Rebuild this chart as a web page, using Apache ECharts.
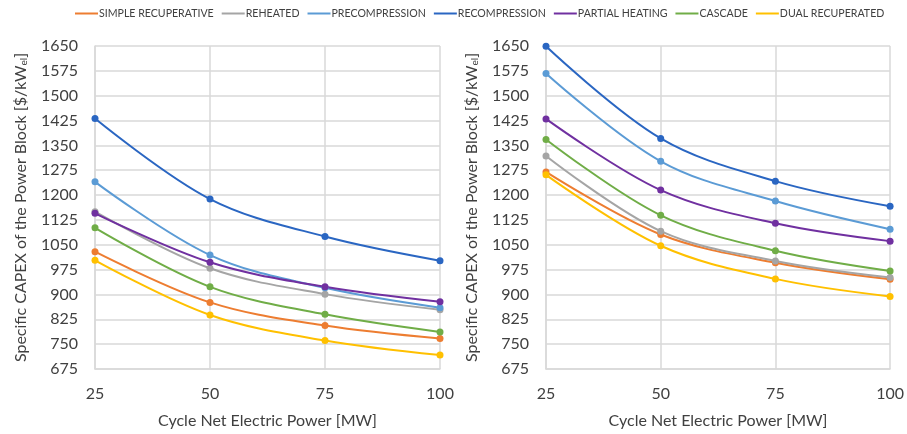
<!DOCTYPE html>
<html>
<head>
<meta charset="utf-8">
<script src="https://cdn.jsdelivr.net/npm/echarts@6/dist/echarts.min.js"></script>
<style>
  html, body { margin: 0; padding: 0; background: #fff; }
  #chart { width: 907px; height: 434px; }
</style>
</head>
<body>
<div id="chart"></div>
<script>
// Net electric power of the cycle [MW]
const power = [25, 50, 75, 100];

// Cycle layouts, in legend order
const cycles = ['SIMPLE RECUPERATIVE', 'REHEATED', 'PRECOMPRESSION', 'RECOMPRESSION',
                'PARTIAL HEATING', 'CASCADE', 'DUAL RECUPERATED'];
const cycleColors = ['#ED7D31', '#A5A5A5', '#5B9BD5', '#2A66C2', '#7030A0', '#70AD47', '#FFC000'];

// Specific CAPEX of the power block [$/kWel] — left panel
const leftSimple   = [1029, 876, 806, 767];
const leftReheated = [1150, 979, 901, 854];
const leftPrecomp  = [1240, 1019, 920, 860];
const leftRecomp   = [1431, 1188, 1075, 1002];
const leftPartial  = [1145, 997, 923, 878];
const leftCascade  = [1101, 923, 840, 787];
const leftDual     = [1003, 838, 761, 717];

// Specific CAPEX of the power block [$/kWel] — right panel
const rightSimple   = [1270, 1081, 996, 946];
const rightReheated = [1318, 1091, 1001, 951];
const rightPrecomp  = [1567, 1302, 1182, 1097];
const rightRecomp   = [1649, 1371, 1242, 1166];
const rightPartial  = [1430, 1215, 1115, 1061];
const rightCascade  = [1368, 1139, 1032, 971];
const rightDual     = [1261, 1047, 947, 894];

// Axis ticks
const yMin = 675, yMax = 1650, yStep = 75;
const xMin = 25, xMax = 100, xStep = 25;

const leftSets  = [leftSimple, leftReheated, leftPrecomp, leftRecomp, leftPartial, leftCascade, leftDual];
const rightSets = [rightSimple, rightReheated, rightPrecomp, rightRecomp, rightPartial, rightCascade, rightDual];

const FONT = 'Lato';
const TXT = '#404040';
const GRID = '#D9D9D9';

function xAxis(idx) {
  return {
    type: 'value', gridIndex: idx, min: xMin, max: xMax, interval: xStep,
    name: 'Cycle Net Electric Power [MW]', nameLocation: 'middle', nameGap: 44,
    nameTextStyle: { fontFamily: FONT, fontSize: 16, color: TXT },
    axisLine: { show: true, lineStyle: { color: GRID, width: 1.5 } },
    axisTick: { show: false },
    axisLabel: { fontFamily: FONT, fontSize: 16, color: TXT, margin: 17, formatter: v => String(v) },
    splitLine: { show: true, lineStyle: { color: GRID, width: 1.5 } }
  };
}

function yAxis(idx) {
  return {
    type: 'value', gridIndex: idx, min: yMin, max: yMax, interval: yStep,
    name: '{t|Specific CAPEX of the Power Block [$/kW}{s|el}{t|]}',
    nameLocation: 'middle', nameGap: 66, nameRotate: 90,
    nameTextStyle: {
      rich: {
        t: { fontFamily: FONT, fontSize: 16, color: TXT },
        s: { fontFamily: FONT, fontSize: 10, color: TXT, padding: [7, 0, 0, 0] }
      }
    },
    axisLine: { show: true, lineStyle: { color: GRID, width: 1.5 } },
    axisTick: { show: false },
    axisLabel: { fontFamily: FONT, fontSize: 16, color: TXT, margin: 17, formatter: v => String(v) },
    splitLine: { show: true, lineStyle: { color: GRID, width: 1.5 } }
  };
}

function makeSeries(sets, idx) {
  return sets.map((vals, i) => ({
    name: cycles[i], type: 'line', xAxisIndex: idx, yAxisIndex: idx,
    data: power.map((p, j) => [p, vals[j]]),
    smooth: 0.35, symbol: 'circle', symbolSize: 7,
    lineStyle: { color: cycleColors[i], width: 2 },
    itemStyle: { color: cycleColors[i] },
    z: 2
  }));
}

const chart = echarts.init(document.getElementById('chart'), null, { renderer: 'canvas' });
chart.setOption({
  animation: false,
  backgroundColor: '#ffffff',
  color: cycleColors,
  legend: {
    data: cycles, top: 3, left: 70, width: 880, icon: 'rect', itemWidth: 23, itemHeight: 2, itemGap: 8,
    textStyle: { fontFamily: FONT, fontSize: 10.6, color: TXT, padding: [0, 0, 0, -4] }
  },
  grid: [
    { left: 95, right: 467, top: 46, bottom: 62 },
    { left: 546, right: 16, top: 46, bottom: 62 }
  ],
  xAxis: [xAxis(0), xAxis(1)],
  yAxis: [yAxis(0), yAxis(1)],
  series: makeSeries(leftSets, 0).concat(makeSeries(rightSets, 1))
});
</script>
</body>
</html>
